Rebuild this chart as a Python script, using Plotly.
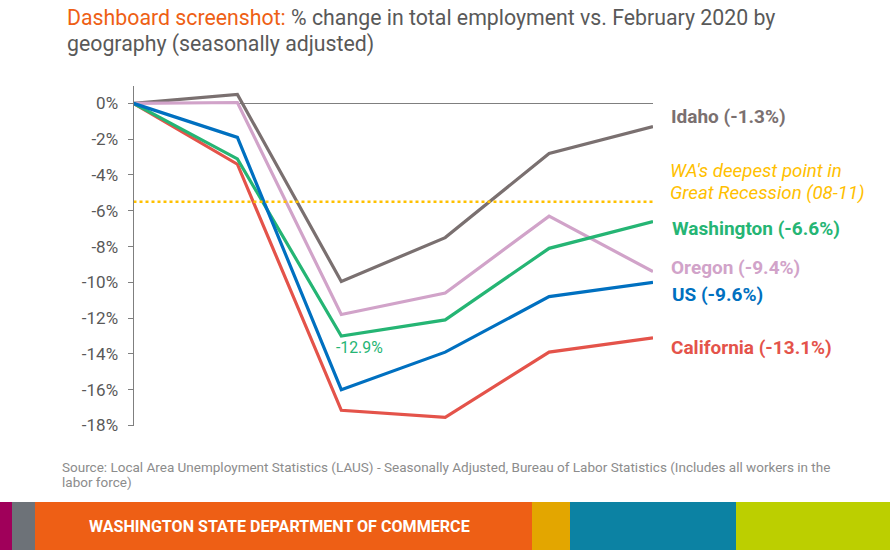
import plotly.graph_objects as go

W, H = 890, 550

months = ['Feb', 'Mar', 'Apr', 'May', 'Jun', 'Jul']
idaho = [0, 0.5, -9.95, -7.5, -2.8, -1.3]
oregon = [0, 0.05, -11.8, -10.6, -6.3, -9.4]
california = [0, -3.4, -17.15, -17.55, -13.9, -13.1]
washington = [0, -3.1, -13.0, -12.1, -8.1, -6.6]
us = [0, -1.9, -16.0, -13.9, -10.8, -10.0]
recession_low = [-5.5] * 6

tick_vals = [0, -2, -4, -6, -8, -10, -12, -14, -16, -18]
tick_text = ['0%', '-2%', '-4%', '-6%', '-8%', '-10%', '-12%', '-14%', '-16%', '-18%']

GREY, PINK, RED, GREEN, BLUE, GOLD = '#7a7070', '#d1a3c9', '#e4534a', '#25b574', '#0070c0', '#ffc000'
TEXT = '#595959'
FONT = 'Roboto'

def fx(px):
    return px / W

def fy(px):
    return 1 - px / H

fig = go.Figure()
for name, vals, col in [('Idaho', idaho, GREY), ('Oregon', oregon, PINK), ('California', california, RED),
                        ('Washington', washington, GREEN), ('US', us, BLUE)]:
    fig.add_trace(go.Scatter(x=months, y=vals, name=name, mode='lines',
                             line=dict(color=col, width=3.2), cliponaxis=False))
fig.add_trace(go.Scatter(x=months, y=recession_low, name='Great Recession', mode='lines',
                         line=dict(color=GOLD, width=2.5, dash='dot'), cliponaxis=False))

def label(text, x, y, color, size=19):
    fig.add_annotation(text=text, xref='paper', yref='paper', x=fx(x), y=fy(y), showarrow=False,
                       xanchor='left', yanchor='middle', align='left',
                       font=dict(family=FONT, size=size, color=color))

label('<span style="color:#ee5f15">Dashboard screenshot:</span> % change in total employment vs. February 2020 by',
      65, 18, TEXT, size=21.3)
label('geography (seasonally adjusted)', 65, 44, TEXT, size=21.3)
label('<b>Idaho (-1.3%)</b>', 669, 116, GREY)
label("<i>WA's deepest point in</i>", 668, 171, GOLD, size=18.7)
label('<i>Great Recession (08-11)</i>', 668, 193, GOLD, size=18.7)
label('<b>Washington (-6.6%)</b>', 670, 228, GREEN)
label('<b>Oregon (-9.4%)</b>', 669, 267, PINK)
label('<b>US (-9.6%)</b>', 670, 294, BLUE)
label('<b>California (-13.1%)</b>', 669, 347, RED)
label('-12.9%', 334, 347, GREEN, size=15.8)
label('Source: Local Area Unemployment Statistics (LAUS) - Seasonally Adjusted, Bureau of Labor Statistics (Includes all workers in the',
      60, 467, '#8c8c8c', size=13.5)
label('labor force)', 60, 482, '#8c8c8c', size=13.5)

# footer band
for x0, x1, col in [(0, 12, '#a0005a'), (12, 35, '#6d7278'), (35, 532, '#ee5f15'),
                    (532, 570, '#e3a600'), (570, 736, '#0c82a3'), (736, 890, '#bccf00')]:
    fig.add_shape(type='rect', xref='paper', yref='paper', x0=fx(x0), x1=fx(x1), y0=fy(550), y1=fy(502),
                  fillcolor=col, line_width=0, layer='below')
label('<b>WASHINGTON STATE DEPARTMENT OF COMMERCE</b>', 87, 526, 'white', size=16.1)

fig.update_layout(
    width=W, height=H, margin=dict(l=0, r=0, t=0, b=0),
    paper_bgcolor='white', plot_bgcolor='white', showlegend=False,
    font=dict(family=FONT, color=TEXT),
)
fig.update_xaxes(domain=[fx(133.5), fx(653)], range=[0, 5], showgrid=False, showticklabels=False,
                 ticks='', zeroline=False, showline=False, type='category', automargin=False)
fig.update_yaxes(domain=[fy(425.5), fy(85.5)], range=[-18, 1], tickvals=tick_vals, ticktext=tick_text,
                 showgrid=False, zeroline=True, zerolinecolor='#7f7f7f', zerolinewidth=1,
                 showline=True, linecolor='#7f7f7f', linewidth=1, ticks='outside', ticklen=5,
                 tickcolor='#7f7f7f', ticklabelstandoff=6,
                 tickfont=dict(family=FONT, size=17, color=TEXT), automargin=False)

fig.write_html("out.html", config=dict(displayModeBar=False),
               post_script="document.body.style.margin='0';document.documentElement.style.overflow='hidden';")
